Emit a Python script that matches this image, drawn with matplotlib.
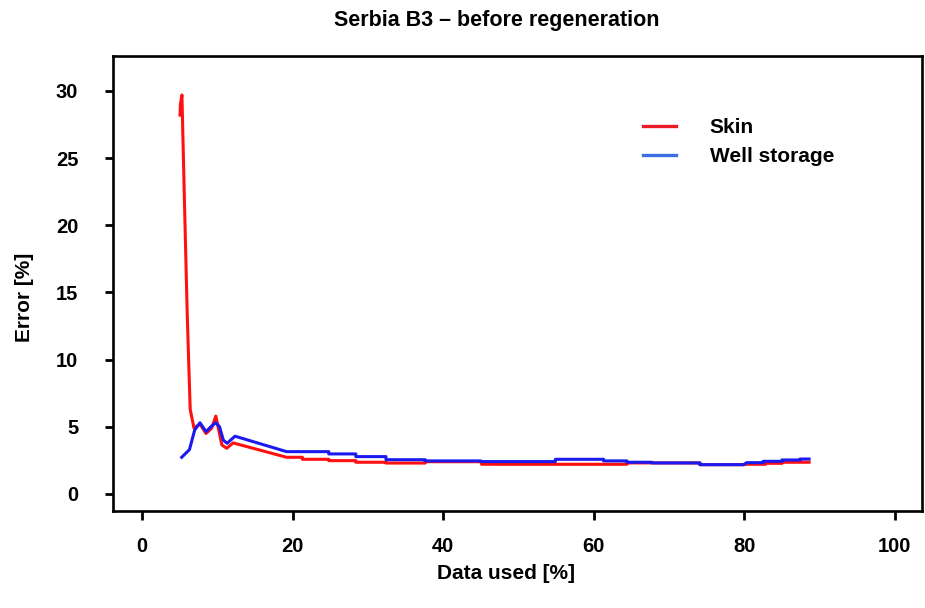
import numpy as np
import matplotlib.pyplot as plt
from matplotlib.lines import Line2D

plt.rcParams['font.family'] = ['Liberation Sans', 'DejaVu Sans']
plt.rcParams['font.weight'] = 'bold'

# Skin error curve
skin_x = [5.05, 5.1, 5.3, 5.4, 5.6, 5.8, 6.0, 6.25, 6.4, 6.9, 7.7, 8.5, 9.25, 9.8,
          10.6, 11.25, 12.1, 19.2, 19.2, 21.3, 21.3, 24.8, 24.8, 28.4, 28.4, 32.4,
          32.4, 37.6, 37.6, 45.0, 45.1, 64.4, 64.4, 74.1, 74.1, 79.9, 80.3, 82.8,
          82.8, 85.0, 85.0, 88.6]
skin_y = [28.2, 29.0, 29.7, 27.3, 22.6, 18.0, 13.5, 8.9, 6.3, 4.9, 5.2, 4.5, 4.9, 5.8,
          3.65, 3.4, 3.8, 2.73, 2.73, 2.73, 2.58, 2.58, 2.48, 2.48, 2.36, 2.36,
          2.3, 2.3, 2.4, 2.4, 2.21, 2.21, 2.31, 2.31, 2.18, 2.18, 2.21, 2.21,
          2.28, 2.28, 2.36, 2.36]

# Well storage error curve
ws_x = [5.27, 6.3, 7.0, 7.7, 8.5, 9.25, 9.8, 10.3, 10.8, 11.3, 12.35, 19.2, 24.8,
        24.8, 28.4, 28.4, 32.4, 32.4, 37.6, 37.6, 45.0, 45.1, 54.9, 54.9, 61.3,
        61.3, 64.4, 64.4, 67.7, 67.7, 74.1, 74.1, 79.9, 80.3, 82.5, 82.5, 85.0,
        85.0, 87.4, 87.4, 88.6]
ws_y = [2.73, 3.3, 4.77, 5.3, 4.64, 5.06, 5.3, 5.0, 4.0, 3.77, 4.3, 3.15, 3.15,
        2.98, 2.98, 2.78, 2.78, 2.55, 2.55, 2.46, 2.46, 2.41, 2.41, 2.58, 2.58,
        2.46, 2.46, 2.36, 2.36, 2.31, 2.31, 2.18, 2.18, 2.33, 2.33, 2.43, 2.43,
        2.53, 2.53, 2.6, 2.6]

xticks = [0, 20, 40, 60, 80, 100]
yticks = [0, 5, 10, 15, 20, 25, 30]

fig = plt.figure(figsize=(9.25, 6.08), dpi=100)
ax = fig.add_axes([0.1222, 0.1595, 0.8746, 0.7484])

ax.plot(skin_x, skin_y, color='#ff1010', lw=2.2, solid_joinstyle='round')
ax.plot(ws_x, ws_y, color='#1a1af0', lw=2.2, solid_joinstyle='round')

ax.set_xlim(-3.85, 103.6)
ax.set_ylim(-1.27, 32.6)
ax.set_xticks(xticks)
ax.set_yticks(yticks)
for s in ax.spines.values():
    s.set_linewidth(1.9)
ax.tick_params(axis='x', length=6.5, width=2, pad=12, labelsize=14.5)
ax.tick_params(axis='y', length=6, width=2, pad=19, labelsize=14.5)

ax.set_xlabel('Data used [%]', fontsize=15, fontweight='bold')
ax.set_ylabel('Error [%]', fontsize=15, fontweight='bold')
ax.xaxis.set_label_coords(0.4858, -0.117)
ax.yaxis.set_label_coords(-0.098, 0.47)
fig.suptitle('Serbia B3 \u2013 before regeneration', fontsize=15.5, fontweight='bold',
             x=0.537, y=0.983)

handles = [Line2D([], [], color='#e81c24', lw=2.4),
           Line2D([], [], color='#3b6fe3', lw=2.4)]
ax.legend(handles, ['Skin', 'Well storage'], loc='upper left',
          bbox_to_anchor=(0.632, 0.905), frameon=False, fontsize=15,
          handlelength=1.6, handletextpad=1.6, labelspacing=0.5)

fig.savefig('out.png', dpi=100)
